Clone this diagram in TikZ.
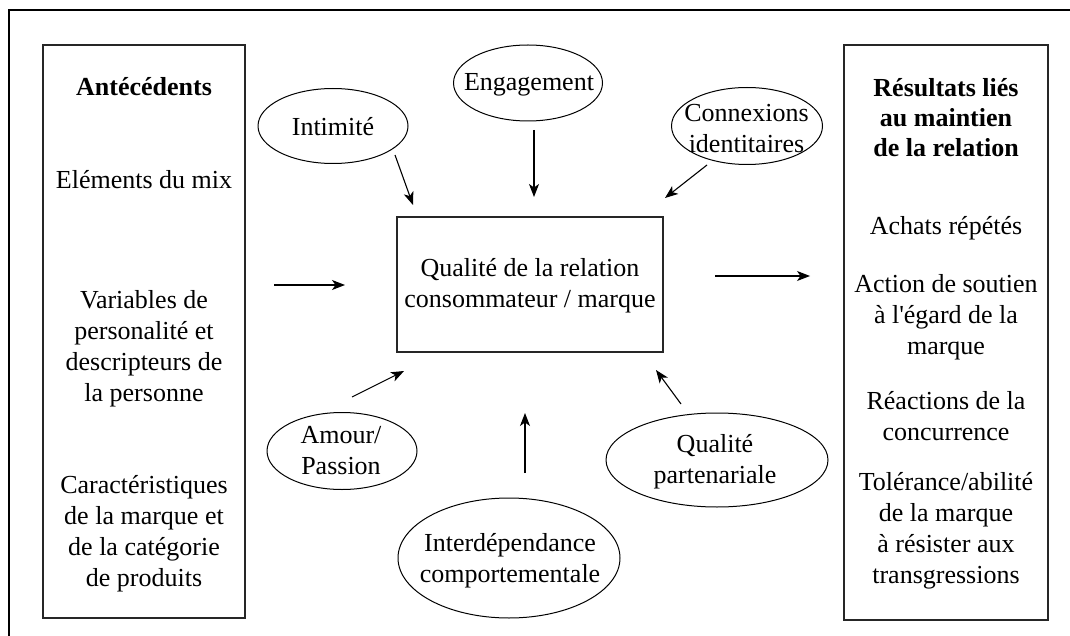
\documentclass[tikz,border=0pt]{standalone}
\usepackage{fontspec}
\newfontfamily\tnrfont{Liberation Serif}
\usetikzlibrary{arrows.meta,shapes.geometric}
\begin{document}
\begin{tikzpicture}[x=1pt,y=-1pt,
  outer/.style={line width=1.5pt},
  panel/.style={draw, line width=1.2pt, inner sep=0pt, draw=black!85},
  bubble/.style={draw, ellipse, line width=1pt, inner sep=0pt},
  txt/.style={align=center, inner sep=0pt, font=\tnrfont\fontsize{26}{31}\selectfont},
  hdr/.style={align=center, inner sep=0pt, font=\tnrfont\bfseries\fontsize{26}{30}\selectfont},
  arr/.style={-{Stealth[length=13pt,width=10pt,inset=3.5pt]}, line width=1.1pt}]
\useasboundingbox (0,0) rectangle (1070,636);
% outer frame (cropped at right and bottom)
\draw[outer] (9,636) -- (9,10) -- (1070,10);
% panels
\node[panel, minimum width=202pt, minimum height=573pt] (ante) at (144,331.5) {};
\node[panel, minimum width=204pt, minimum height=575pt] (resu) at (946,332.5) {};
\node[panel, minimum width=266pt, minimum height=135pt] (qual) at (530,284.5) {};
% ellipses
\node[bubble, minimum width=150pt, minimum height=75pt] (intim) at (333,126) {};
\node[bubble, minimum width=149pt, minimum height=76pt] (engag) at (528,83) {};
\node[bubble, minimum width=151pt, minimum height=77pt] (conn) at (747,126) {};
\node[bubble, minimum width=150pt, minimum height=77pt] (amour) at (342,451) {};
\node[bubble, minimum width=222pt, minimum height=120pt] (inter) at (509,558) {};
\node[bubble, minimum width=222pt, minimum height=94pt] (parten) at (717,460) {};
% ellipse texts
\node[txt] (intimT) at (333,127) {Intimité};
\node[txt] (engagT) at (529,85) {Engagement};
\node[txt] (connT) at (746.5,129) {Connexions\\identitaires};
\node[txt] (amourT) at (341,451) {Amour/\\Passion};
\node[txt] (interT) at (510,561) {Interdépendance\\comportementale};
\node[txt] (partenT) at (715,462) {Qualité\\partenariale};
% centre text
\node[txt] (qualT) at (530,286) {Qualité de la relation\\consommateur / marque};
% left panel texts
\node[hdr] (anteH) at (144,87) {Antécédents};
\node[txt] (a1) at (144,180) {Eléments du mix};
\node[txt] (a2) at (144,349) {Variables de\\personalité et\\descripteurs de\\la personne};
\node[txt] (a3) at (144,534) {Caractéristiques\\de la marque et\\de la catégorie\\de produits};
% right panel texts
\node[hdr] (resuH) at (946,118) {Résultats liés\\au maintien\\de la relation};
\node[txt] (r1) at (946,228) {Achats répétés};
\node[txt] (r2) at (946,317) {Action de soutien\\à l\textquotesingle égard de la\\marque};
\node[txt] (r3) at (946,416) {Réactions de la\\concurrence};
\node[txt] (r4) at (946,531) {Tolérance/abilité\\de la marque\\à résister aux\\transgressions};
% arrow end points
\coordinate (iS) at (395,155);  \coordinate (iE) at (413,205);
\coordinate (eS) at (534,130);  \coordinate (eE) at (534,197);
\coordinate (cS) at (707,165);  \coordinate (cE) at (665,198);
\coordinate (lS) at (274,285);  \coordinate (lE) at (345,285);
\coordinate (rS) at (715,276);  \coordinate (rE) at (810,276);
\coordinate (aS) at (352,397);  \coordinate (aE) at (404,371);
\coordinate (dS) at (525,473);  \coordinate (dE) at (525,413);
\coordinate (pS) at (681,404);  \coordinate (pE) at (656,370);
\draw[arr] (iS) -- (iE);
\draw[arr] (eS) -- (eE);
\draw[arr] (cS) -- (cE);
\draw[arr] (lS) -- (lE);
\draw[arr] (rS) -- (rE);
\draw[arr] (aS) -- (aE);
\draw[arr] (dS) -- (dE);
\draw[arr] (pS) -- (pE);
\end{tikzpicture}
\end{document}
